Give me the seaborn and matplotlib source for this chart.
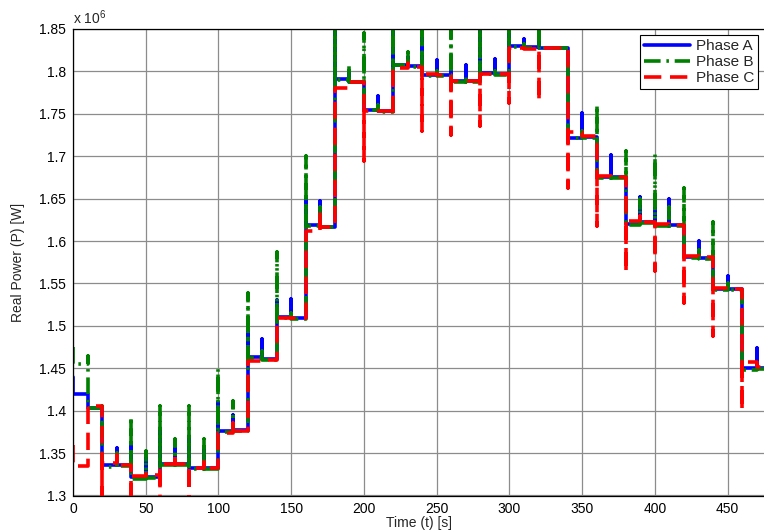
import numpy as np
import pandas as pd
import matplotlib
matplotlib.use("Agg")
import matplotlib.pyplot as plt
import seaborn as sns
from matplotlib.ticker import FuncFormatter

# time grid: segment k covers [10k, 10k+10) seconds, boundaries at 10k
t_step = 10
t_end = 475

# real power in units of 1e6 W, one level per 10 s segment
phase_a_levels = [1.420, 1.403, 1.336, 1.336, 1.322, 1.322, 1.337, 1.337, 1.332, 1.332,
                  1.376, 1.377, 1.463, 1.461, 1.510, 1.509, 1.619, 1.617, 1.791, 1.788,
                  1.755, 1.753, 1.808, 1.806, 1.796, 1.796, 1.789, 1.789, 1.798, 1.797,
                  1.830, 1.829, 1.828, 1.828, 1.722, 1.723, 1.675, 1.675, 1.620, 1.622,
                  1.619, 1.619, 1.581, 1.580, 1.543, 1.543, 1.450, 1.450]
phase_b_levels = [1.455, 1.403, 1.334, 1.335, 1.320, 1.321, 1.336, 1.336, 1.331, 1.331,
                  1.375, 1.376, 1.462, 1.460, 1.509, 1.508, 1.618, 1.616, 1.790, 1.787,
                  1.754, 1.752, 1.807, 1.805, 1.795, 1.795, 1.788, 1.788, 1.797, 1.796,
                  1.829, 1.828, 1.828, 1.828, 1.721, 1.722, 1.674, 1.674, 1.619, 1.621,
                  1.618, 1.618, 1.580, 1.579, 1.542, 1.542, 1.448, 1.449]
phase_c_levels = [1.335, 1.405, 1.338, 1.336, 1.323, 1.324, 1.337, 1.337, 1.333, 1.332,
                  1.374, 1.376, 1.458, 1.460, 1.509, 1.509, 1.612, 1.617, 1.780, 1.787,
                  1.753, 1.753, 1.804, 1.805, 1.797, 1.796, 1.789, 1.789, 1.797, 1.797,
                  1.828, 1.827, 1.828, 1.828, 1.728, 1.724, 1.677, 1.675, 1.624, 1.622,
                  1.620, 1.619, 1.582, 1.581, 1.545, 1.543, 1.457, 1.452]

# value at t=0 before settling
phase_a_start = 1.440
phase_b_start = 1.475
phase_c_start = 1.360

# transient extreme at each boundary t = 10, 20, ..., 470
phase_a_spikes = [1.420, 1.403, 1.356, 1.360, 1.345, 1.380, 1.360, 1.370, 1.355, 1.410,
                  1.395, 1.500, 1.484, 1.530, 1.532, 1.650, 1.647, 1.860, 1.800, 1.787,
                  1.771, 1.860, 1.817, 1.860, 1.814, 1.800, 1.807, 1.860, 1.815, 1.860,
                  1.838, 1.840, 1.828, 1.828, 1.751, 1.723, 1.702, 1.675, 1.652, 1.640,
                  1.650, 1.619, 1.600, 1.581, 1.559, 1.543, 1.474]
phase_b_spikes = [1.465, 1.405, 1.350, 1.393, 1.353, 1.405, 1.367, 1.405, 1.367, 1.449,
                  1.412, 1.539, 1.470, 1.587, 1.515, 1.700, 1.640, 1.900, 1.807, 1.845,
                  1.760, 1.900, 1.823, 1.900, 1.800, 1.848, 1.795, 1.900, 1.800, 1.900,
                  1.832, 1.900, 1.828, 1.828, 1.730, 1.760, 1.680, 1.706, 1.650, 1.703,
                  1.640, 1.663, 1.590, 1.622, 1.550, 1.542, 1.449]
phase_c_spikes = [1.335, 1.290, 1.348, 1.290, 1.325, 1.290, 1.350, 1.290, 1.340, 1.332,
                  1.385, 1.377, 1.460, 1.461, 1.509, 1.509, 1.634, 1.617, 1.787, 1.694,
                  1.753, 1.746, 1.810, 1.730, 1.796, 1.725, 1.789, 1.736, 1.797, 1.763,
                  1.828, 1.765, 1.828, 1.663, 1.724, 1.618, 1.675, 1.563, 1.630, 1.565,
                  1.619, 1.527, 1.581, 1.488, 1.543, 1.401, 1.452]

phase_names = ["Phase A", "Phase B", "Phase C"]
phase_colors = ["#0000ff", "#008000", "#ff0000"]
phase_dashes = [None, (4.6, 1.6, 0.7, 1.6), (4.8, 2.4)]


def step_path(start, levels, spikes):
    xs = [0, 0]
    ys = [start, levels[0]]
    for k in range(1, len(levels)):
        t = k * t_step
        xs += [t, t, t]
        ys += [levels[k - 1], spikes[k - 1], levels[k]]
    xs.append(t_end)
    ys.append(levels[-1])
    return pd.DataFrame({"t": xs, "P": ys})


paths = [
    step_path(phase_a_start, phase_a_levels, phase_a_spikes),
    step_path(phase_b_start, phase_b_levels, phase_b_spikes),
    step_path(phase_c_start, phase_c_levels, phase_c_spikes),
]

sns.set_style("white")
plt.rcParams["font.family"] = ["Liberation Sans", "DejaVu Sans"]
plt.rcParams["mathtext.fontset"] = "custom"
plt.rcParams["mathtext.rm"] = "Liberation Sans"
plt.rcParams["mathtext.it"] = "Liberation Sans"

fig = plt.figure(figsize=(7.64, 5.32), dpi=100)
ax = fig.add_axes([73 / 764, 36.5 / 532, 691 / 764, 466.5 / 532])

for df, name, color, dash in zip(paths, phase_names, phase_colors, phase_dashes):
    line_ax = sns.lineplot(data=df, x="t", y="P", sort=False, estimator=None, ax=ax,
                           color=color, linewidth=2.6, label=name)
    if dash is not None:
        line_ax.lines[-1].set_dashes(dash)

ax.set_xlim(0, t_end)
ax.set_ylim(1.3, 1.85)
ax.set_xticks(np.arange(0, 451, 50))
ax.set_yticks(np.arange(1.3, 1.851, 0.05))
ax.yaxis.set_major_formatter(FuncFormatter(lambda v, p: "%g" % round(v, 2)))
ax.grid(True, color="#8c8c8c", linewidth=0.9)
ax.tick_params(direction="in", length=4, labelsize=10, colors="black", pad=5)
for side in ["left", "top", "bottom"]:
    ax.spines[side].set_color("black")
    ax.spines[side].set_linewidth(0.9)
ax.spines["right"].set_visible(False)

ax.set_xlabel("Time (t) [s]", fontsize=10, labelpad=0)
ax.set_ylabel("Real Power (P) [W]", fontsize=10, labelpad=10)
ax.text(0.0, 1.005, r"x 10$^{6}$", transform=ax.transAxes, fontsize=10,
        ha="left", va="bottom")

leg = ax.legend(loc="upper right", bbox_to_anchor=(0.9915, 0.987), fontsize=11,
                fancybox=False, framealpha=1, edgecolor="black", handlelength=3.0,
                borderpad=0.25, labelspacing=0.15, handletextpad=0.4, borderaxespad=0)
leg.get_frame().set_linewidth(0.8)

fig.savefig("out.png", dpi=100)
plt.close(fig)
